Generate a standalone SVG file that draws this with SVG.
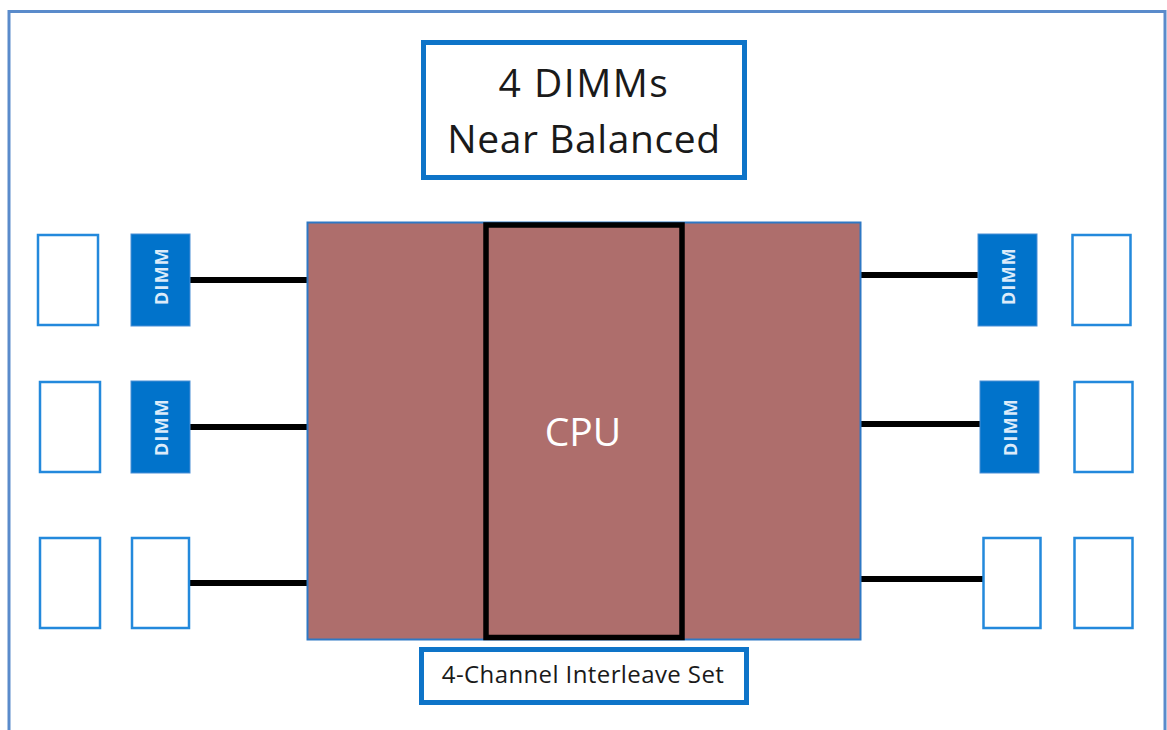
<svg xmlns="http://www.w3.org/2000/svg" width="1167" height="730" viewBox="0 0 1167 730">
<style>
.slot{fill:#fff;stroke:#2389DC;stroke-width:2.5}
.dimm{fill:#0173CB;stroke:#4A8FD6;stroke-width:1}
.dlbl{fill:#DCEBFA;font-family:"Open Sans",sans-serif;font-weight:700;font-size:18px;text-anchor:middle;letter-spacing:1.2px}
.wire{stroke:#000;stroke-width:6;fill:none}
.lbox{fill:#fff;stroke:#0E74C8;stroke-width:5}
.ttl{font-family:"Open Sans",sans-serif;fill:#1a1a1a;text-anchor:middle}
</style>
<rect x="0" y="0" width="1167" height="730" fill="#fff"/>
<rect id="frame" x="9" y="11.5" width="1156" height="730" fill="none" stroke="#5A8BCB" stroke-width="3"/>
<g id="title">
<rect class="lbox" x="423.5" y="42.5" width="321" height="135"/>
<text class="ttl" x="584" y="97" font-size="39" letter-spacing="1.5">4 DIMMs</text>
<text class="ttl" x="584" y="153" font-size="39" letter-spacing="0.6">Near Balanced</text>
</g>
<g id="connectors">
<line class="wire" x1="190" y1="280" x2="308" y2="280"/>
<line class="wire" x1="190" y1="427" x2="308" y2="427"/>
<line class="wire" x1="190" y1="583" x2="308" y2="583"/>
<line class="wire" x1="860" y1="275" x2="978" y2="275"/>
<line class="wire" x1="860" y1="424" x2="980" y2="424"/>
<line class="wire" x1="860" y1="579" x2="983" y2="579"/>
</g>
<g id="cpu">
<rect x="307.5" y="222.5" width="553" height="417" fill="#AE6E6C" stroke="#2E78C4" stroke-width="2"/>
<rect x="486" y="225" width="196" height="412.5" fill="none" stroke="#000" stroke-width="5.5"/>
<text x="583" y="446" font-family="Open Sans, sans-serif" font-size="39" fill="#fff" text-anchor="middle">CPU</text>
</g>
<g id="left-slots">
<rect id="L1a" class="slot" x="38" y="235" width="60" height="90"/>
<rect id="L2a" class="slot" x="40" y="382" width="60" height="90"/>
<rect id="L3a" class="slot" x="40" y="538" width="60" height="90"/>
<g id="L1b"><rect class="dimm" x="131" y="234" width="59" height="92"/><text class="dlbl" transform="translate(167.5,276) rotate(-90)">DIMM</text></g>
<g id="L2b"><rect class="dimm" x="131" y="381" width="59" height="92"/><text class="dlbl" transform="translate(167.5,427) rotate(-90)">DIMM</text></g>
<rect id="L3b" class="slot" x="132" y="538" width="57" height="90"/>
</g>
<g id="right-slots">
<g id="R1b"><rect class="dimm" x="978" y="234" width="59" height="92"/><text class="dlbl" transform="translate(1014.5,276) rotate(-90)">DIMM</text></g>
<g id="R2b"><rect class="dimm" x="980" y="381" width="59" height="92"/><text class="dlbl" transform="translate(1016.5,427) rotate(-90)">DIMM</text></g>
<rect id="R3b" class="slot" x="983.5" y="538" width="57" height="90"/>
<rect id="R1a" class="slot" x="1072.5" y="235" width="58" height="90"/>
<rect id="R2a" class="slot" x="1074.5" y="382" width="58" height="90"/>
<rect id="R3a" class="slot" x="1074.5" y="538" width="58" height="90"/>
</g>
<g id="interleave">
<rect class="lbox" x="421.5" y="649.5" width="325" height="53"/>
<text class="ttl" x="583" y="683" font-size="24" letter-spacing="0.4">4-Channel Interleave Set</text>
</g>
</svg>
